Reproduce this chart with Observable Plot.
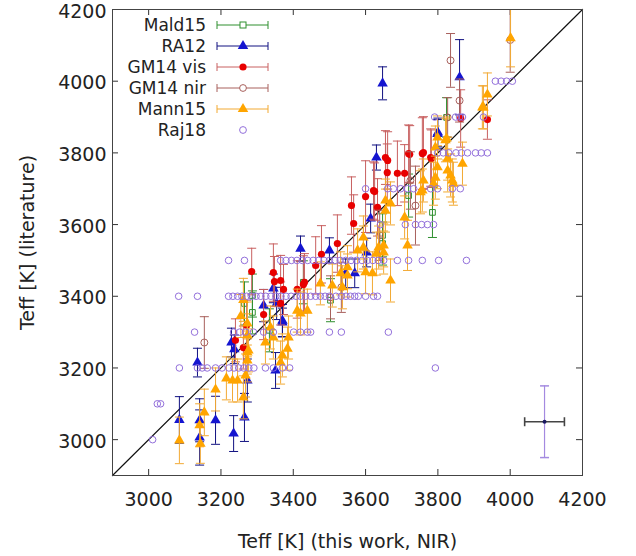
<!DOCTYPE html>
<html><head><meta charset="utf-8">
<script src="https://cdn.jsdelivr.net/npm/d3@7"></script>
<script src="https://cdn.jsdelivr.net/npm/@observablehq/plot@0.6"></script>
<style>
html,body{margin:0;padding:0;background:#fff;}
#wrap{position:relative;width:636px;height:556px;}
#legend{position:absolute;left:0;top:0;pointer-events:none;}
</style></head><body><div id="wrap"></div>
<script>
// ---------- data ----------
const axisTicks = [3000, 3200, 3400, 3600, 3800, 4000, 4200];
const axisDomain = [2900, 4200];
const xTitle = "Teff [K] (this work, NIR)";
const yTitle = "Teff [K] (literature)";
const seriesNames = ["Mald15", "RA12", "GM14 vis", "GM14 nir", "Mann15", "Raj18"];

const mald15X   = [3824, 3785, 3647, 3647, 3719, 3265, 3287, 3287, 3334, 3428, 3503];
const mald15Y   = [3899, 3634, 3570, 3547, 3681, 3380, 3402, 3355, 3305, 3439, 3389];
const mald15Err = [55, 70, 60, 60, 60, 60, 60, 60, 60, 60, 60];

const ra12X   = [3085, 3141, 3141, 3135, 3185, 3235, 3265, 3229, 3237, 3351, 3370, 3318, 3354, 3273, 3345, 3420, 3500, 3370, 3630, 3603, 3545, 3570, 3614, 3800, 3647, 3860, 3799];
const ra12Y   = [3055, 3006, 3054, 3215, 3054, 3017, 3062, 3271, 3252, 3193, 3332, 3374, 3380, 3165, 3422, 3533, 3528, 3327, 3787, 3522, 3464, 3464, 3617, 3857, 3994, 4011, 3853];
const ra12Err = [65, 77, 60, 40, 67, 50, 67, 40, 40, 50, 45, 45, 45, 60, 40, 35, 35, 40, 35, 40, 40, 40, 40, 40, 46, 105, 40];

const gm14visX   = [3655, 3661, 3660, 3688, 3708, 3719, 3760, 3782, 3625, 3600, 3561, 3567, 3633, 3522, 3478, 3462, 3431, 3937, 3863, 3757, 3722, 3622, 3780, 3428, 3411, 3373, 3365, 3345, 3348, 3285, 3271, 3318, 3240, 3365, 3262];
const gm14visY   = [3787, 3779, 3745, 3743, 3743, 3798, 3801, 3784, 3692, 3678, 3653, 3603, 3648, 3547, 3517, 3486, 3439, 3893, 3896, 3798, 3796, 3695, 3787, 3433, 3419, 3419, 3444, 3466, 3441, 3469, 3319, 3349, 3277, 3380, 3257];
const gm14visErr = [75, 80, 80, 90, 80, 80, 100, 80, 80, 100, 80, 80, 80, 80, 80, 80, 80, 55, 80, 100, 80, 80, 80, 80, 80, 70, 70, 80, 70, 65, 70, 70, 60, 60, 60];

const gm14nirX   = [3835, 3860, 3827, 3154, 3533, 3738, 3724, 3503, 3639, 4000];
const gm14nirY   = [4058, 3946, 3899, 3271, 3425, 3653, 3723, 3397, 3570, 4115];
const gm14nirErr = [75, 60, 55, 72, 70, 110, 80, 60, 70, 90];

const mann15X   = [3085, 3141, 3143, 3154, 3185, 3215, 3232, 3246, 3268, 3262, 3273, 3273, 3323, 3337, 3345, 3365, 3370, 3384, 3387, 3420, 3439, 3273, 3276, 3273, 3411, 3475, 3550, 3536, 3578, 3655, 3655, 3708, 3716, 3636, 3630, 3594, 3600, 3619, 3550, 3531, 3508, 3788, 3793, 3799, 3793, 3821, 3835, 3843, 3868, 3827, 3923, 3760, 3757, 3669, 3937, 3926, 3824, 3799, 3840, 3827, 3752, 4001, 3669, 3650, 3650, 3262, 3255, 3594];
const mann15Y   = [2998, 3040, 2989, 3076, 3140, 3171, 3165, 3165, 3179, 3118, 3221, 3243, 3271, 3313, 3285, 3215, 3235, 3254, 3285, 3352, 3360, 3291, 3249, 3324, 3360, 3436, 3458, 3425, 3528, 3639, 3667, 3620, 3542, 3536, 3519, 3564, 3467, 3464, 3481, 3464, 3430, 3714, 3731, 3760, 3815, 3835, 3737, 3714, 3770, 3784, 3927, 3723, 3695, 3659, 3963, 3927, 3840, 3843, 3723, 3751, 3690, 4120, 3444, 3522, 3542, 3390, 3345, 3536];
const mann15Err = [65, 60, 55, 65, 60, 60, 60, 60, 60, 60, 60, 60, 60, 60, 60, 60, 60, 60, 60, 60, 60, 60, 60, 60, 60, 60, 60, 60, 60, 60, 60, 60, 70, 60, 60, 60, 60, 60, 60, 60, 60, 60, 60, 60, 60, 60, 60, 60, 60, 60, 60, 60, 60, 60, 60, 60, 60, 60, 60, 60, 60, 80, 60, 60, 60, 60, 60, 60];

const raj18Levels = [3000, 3100, 3200, 3300, 3400, 3500, 3600, 3700, 3800, 3900, 4000];
const raj18XByLevel = [
  [3011],
  [3024, 3033],
  [3085, 3135, 3148, 3162, 3185, 3203, 3222, 3236, 3249, 3263, 3277, 3291, 3323, 3345, 3370, 3390, 3793],
  [3127, 3235, 3252, 3268, 3290, 3318, 3345, 3401, 3420, 3439, 3448, 3500, 3533, 3663],
  [3083, 3135, 3221, 3233, 3246, 3258, 3271, 3284, 3297, 3310, 3324, 3338, 3352, 3366, 3380, 3394, 3408, 3420, 3434, 3448, 3462, 3475, 3488, 3500, 3518, 3533, 3546, 3558, 3570, 3580, 3600, 3622, 3633],
  [3221, 3265, 3365, 3380, 3395, 3410, 3425, 3440, 3455, 3470, 3485, 3500, 3515, 3530, 3545, 3560, 3575, 3590, 3605, 3620, 3635, 3650, 3688, 3719, 3757, 3802, 3879],
  [3641, 3710, 3738, 3755, 3771, 3788],
  [3600, 3661, 3677, 3697, 3716, 3733, 3780, 3799, 3840, 3862],
  [3799, 3815, 3830, 3850, 3865, 3882, 3904, 3920, 3937],
  [3791, 3849, 3860, 3868, 3926],
  [3959, 3975, 3990, 4006]
];

// typical uncertainty cross
const repX = 4095, repY = 3050, repXErr = 55, repYErr = 100;

// ---------- helpers ----------
const rows = (xs, ys, es) => xs.map((x, i) => ({x, y: ys[i], e: es ? es[i] : 0}));
const mald15 = rows(mald15X, mald15Y, mald15Err);
const ra12 = rows(ra12X, ra12Y, ra12Err);
const gm14vis = rows(gm14visX, gm14visY, gm14visErr);
const gm14nir = rows(gm14nirX, gm14nirY, gm14nirErr);
const mann15 = rows(mann15X, mann15Y, mann15Err);
const raj18 = raj18Levels.flatMap((lv, i) => raj18XByLevel[i].map(x => ({x, y: lv})));
const rep = [{x: repX, y: repY, ex: repXErr, ey: repYErr}];

const hcap = {draw(ctx) { ctx.moveTo(-4.5, 0); ctx.lineTo(4.5, 0); }};
const vcap = {draw(ctx) { ctx.moveTo(0, -4.5); ctx.lineTo(0, 4.5); }};

function errMarks(data, color) {
  return [
    Plot.ruleX(data, {x: "x", y1: d => d.y - d.e, y2: d => d.y + d.e, stroke: color, strokeWidth: 1, clip: true}),
    Plot.dot(data, {x: "x", y: d => d.y - d.e, symbol: hcap, fill: "none", stroke: color, strokeWidth: 1, clip: true}),
    Plot.dot(data, {x: "x", y: d => d.y + d.e, symbol: hcap, fill: "none", stroke: color, strokeWidth: 1, clip: true})
  ];
}

const C = {
  mald: "#2f8f2f", raBar: "#101080", raPt: "#1515d0",
  visBar: "#c86060", visPt: "#e80000", nir: "#a8605c",
  mannBar: "#f2a933", mannPt: "#ffa500", raj: "#9370db"
};

const FONT = "DejaVu Sans, sans-serif";
const H = 556, W = 636, mL = 112, mR = 54, mT = 9, mB = 81;
const innerH = H - mT - mB, innerW = W - mL - mR, tickLen = 6;
const fmt = d3.format("d");

const chart = Plot.plot({
  width: W, height: H,
  marginLeft: mL, marginRight: mR, marginTop: mT, marginBottom: mB,
  style: {fontFamily: FONT, background: "#fff", color: "#222", overflow: "visible"},
  x: {domain: axisDomain},
  y: {domain: axisDomain},
  marks: [
    Plot.axisX({ticks: axisTicks, tickFormat: fmt, tickSize: 0, tickPadding: 17, fontSize: 19, label: null}),
    Plot.axisY({ticks: axisTicks, tickFormat: fmt, tickSize: 0, tickPadding: 6, fontSize: 19, dy: 2, label: null}),
    // inward ticks on all four sides
    Plot.tickX(axisTicks.slice(0, -1), {x: d => d, insetTop: innerH - tickLen, stroke: "#333"}),
    Plot.tickX(axisTicks.slice(0, -1), {x: d => d, insetBottom: innerH - tickLen, stroke: "#333"}),
    Plot.tickY(axisTicks.slice(0, -1), {y: d => d, insetRight: innerW - tickLen, stroke: "#333"}),
    Plot.tickY(axisTicks.slice(0, -1), {y: d => d, insetLeft: innerW - tickLen, stroke: "#333"}),
    // one-to-one line
    Plot.line(axisDomain, {x: d => d, y: d => d, stroke: "#111", strokeWidth: 1.2}),
    // Mald15
    ...errMarks(mald15, C.mald),
    Plot.dot(mald15, {x: "x", y: "y", symbol: "square", r: 3.2, fill: "none", stroke: C.mald, strokeWidth: 1, clip: true}),
    // RA12
    ...errMarks(ra12, C.raBar),
    Plot.dot(ra12, {x: "x", y: "y", symbol: "triangle", r: 3.9, fill: C.raPt, stroke: "none", clip: true}),
    // GM14 vis
    ...errMarks(gm14vis, C.visBar),
    Plot.dot(gm14vis, {x: "x", y: "y", r: 3.6, fill: C.visPt, stroke: "none", clip: true}),
    // GM14 nir
    ...errMarks(gm14nir, C.nir),
    Plot.dot(gm14nir, {x: "x", y: "y", r: 3.5, fill: "none", stroke: C.nir, strokeWidth: 1, clip: true}),
    // Mann15
    ...errMarks(mann15, C.mannBar),
    Plot.dot(mann15, {x: "x", y: "y", symbol: "triangle", r: 3.9, fill: C.mannPt, stroke: "none", clip: true}),
    // Raj18
    Plot.dot(raj18, {x: "x", y: "y", r: 3.3, fill: "none", stroke: C.raj, strokeWidth: 1, clip: true}),
    // typical uncertainty
    Plot.ruleX(rep, {x: "x", y1: d => d.y - d.ey, y2: d => d.y + d.ey, stroke: "#a48ae0", strokeWidth: 1.2}),
    Plot.dot(rep, {x: "x", y: d => d.y - d.ey, symbol: hcap, fill: "none", stroke: "#a48ae0"}),
    Plot.dot(rep, {x: "x", y: d => d.y + d.ey, symbol: hcap, fill: "none", stroke: "#a48ae0"}),
    Plot.ruleY(rep, {y: "y", x1: d => d.x - d.ex, x2: d => d.x + d.ex, stroke: "#444", strokeWidth: 1.6}),
    Plot.dot(rep, {x: d => d.x - d.ex, y: "y", symbol: vcap, fill: "none", stroke: "#444", strokeWidth: 1.6}),
    Plot.dot(rep, {x: d => d.x + d.ex, y: "y", symbol: vcap, fill: "none", stroke: "#444", strokeWidth: 1.6}),
    Plot.dot(rep, {x: "x", y: "y", r: 2, fill: "#1a1a60"}),
    Plot.frame({stroke: "#444", strokeWidth: 1}),
    // axis titles
    Plot.text([xTitle], {frameAnchor: "bottom", dy: 66, text: d => d, fontSize: 19, textAnchor: "middle", lineAnchor: "middle", fill: "#222"}),
    Plot.text([yTitle], {frameAnchor: "left", dx: -85, text: d => d, rotate: -90, fontSize: 19, textAnchor: "middle", lineAnchor: "middle", fill: "#222"})
  ]
});
document.getElementById("wrap").appendChild(chart);

// ---------- legend (overlay) ----------
const lg = d3.select("#wrap").append("svg").attr("id", "legend")
  .attr("width", W).attr("height", H).style("font-family", FONT);
const legendStyles = [
  {bar: C.mald, kind: "square", pt: C.mald},
  {bar: C.raBar, kind: "tri", pt: C.raPt},
  {bar: C.visBar, kind: "fcircle", pt: C.visPt},
  {bar: C.nir, kind: "ocircle", pt: C.nir},
  {bar: C.mannBar, kind: "tri", pt: C.mannPt},
  {bar: null, kind: "ocircle", pt: C.raj}
];
const legY0 = 25, legDY = 21, labelX = 206, sx1 = 217, sx2 = 268, sxm = 243;
seriesNames.forEach((name, i) => {
  const y = legY0 + i * legDY, s = legendStyles[i];
  lg.append("text").attr("x", labelX).attr("y", y).attr("dy", "0.36em")
    .attr("text-anchor", "end").attr("font-size", 17).attr("fill", "#222").text(name);
  if (s.bar) {
    lg.append("line").attr("x1", sx1).attr("x2", sx2).attr("y1", y).attr("y2", y).attr("stroke", s.bar);
    [sx1, sx2].forEach(x => lg.append("line").attr("x1", x).attr("x2", x).attr("y1", y - 4).attr("y2", y + 4).attr("stroke", s.bar));
  }
  const g = lg.append("g").attr("transform", `translate(${sxm},${y})`);
  if (s.kind === "square") g.append("rect").attr("x", -3).attr("y", -3).attr("width", 6).attr("height", 6).attr("fill", "#fff").attr("stroke", s.pt);
  else if (s.kind === "tri") g.append("path").attr("d", d3.symbol(d3.symbolTriangle, Math.PI * 3.9 * 3.9)()).attr("fill", s.pt);
  else if (s.kind === "fcircle") g.append("circle").attr("r", 3.6).attr("fill", s.pt);
  else g.append("circle").attr("r", 3.4).attr("fill", "#fff").attr("stroke", s.pt);
});
</script></body></html>
